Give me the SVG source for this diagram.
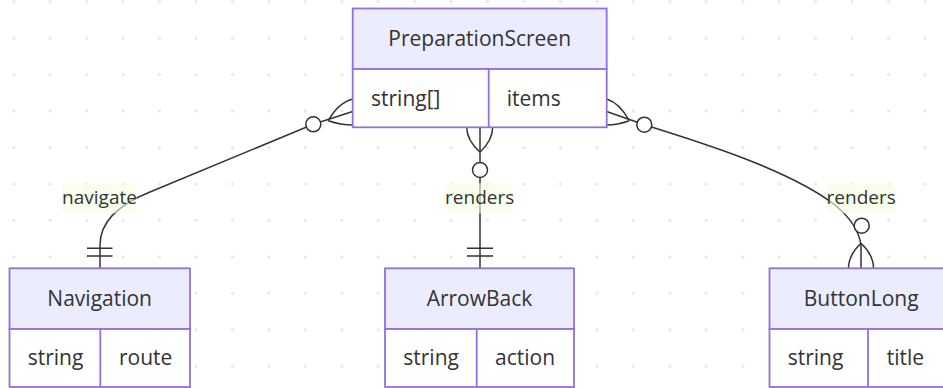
<svg xmlns="http://www.w3.org/2000/svg" width="943" height="388" viewBox="0 0 943 388">
<style>
.hdr{fill:#ECECFF;stroke:#9370DB;stroke-width:1.8}
.row{fill:#ffffff;stroke:#9370DB;stroke-width:1.8}
.div{stroke:#9370DB;stroke-width:1.8;fill:none}
.t{font-family:"Open Sans","DejaVu Sans",sans-serif;font-size:21px;fill:#333333}
.c{text-anchor:middle}
.ln{fill:none;stroke:#333333;stroke-width:1.5}
.ring{fill:#ffffff;stroke:#333333;stroke-width:1.5}
.lbg{fill:#f4ffe4;opacity:0.6}
.lt{font-family:"Open Sans","DejaVu Sans",sans-serif;font-size:19px;fill:#333333;text-anchor:middle}
</style>
<defs>
<pattern id="dots" x="-4.5" y="-16.5" width="36.45" height="36.45" patternUnits="userSpaceOnUse">
<circle cx="18.225" cy="18.225" r="1.6" fill="#e6e6e6"/>
</pattern>
</defs>
<rect width="943" height="388" fill="#ffffff"/>
<rect width="943" height="388" fill="url(#dots)"/>

<g id="connectors">
<path class="ln" d="M352.7,111.5 L313.3,124.3 L150,192 Q100,212 100,245 L100,268.3"/>
<path class="ln" d="M328.3,120.7 Q338,103 352.7,99 M328.3,120.7 Q341,125 352.7,125"/>
<circle class="ring" cx="313.3" cy="124.3" r="7.5"/>
<path class="ln" d="M87,248.3 H112.5 M87,256 H112.5"/>

<path class="ln" d="M480,127.3 L480,268.3"/>
<path class="ln" d="M480,152.3 Q466.7,140 466.7,127.3 M480,152.3 Q492.7,140 492.7,127.3"/>
<circle class="ring" cx="480" cy="170" r="7.5"/>
<path class="ln" d="M467,248.3 H493 M467,256 H493"/>

<path class="ln" d="M606.7,111.5 L644.3,124.7 C700,142 790,170 835,205 Q858,224 861,245 L861,268.3"/>
<path class="ln" d="M629.3,120.7 Q619.6,103 606.7,99 M629.3,120.7 Q617,125 606.7,125"/>
<circle class="ring" cx="644.3" cy="124.7" r="7.5"/>
<path class="ln" d="M861,243.3 Q848.5,255 848.5,268.3 M861,243.3 Q873.5,255 873.5,268.3"/>
<circle class="ring" cx="861.7" cy="225.7" r="7.5"/>

<rect class="lbg" x="62.3" y="183.3" width="74.4" height="30"/>
<text class="lt" x="99.5" y="204">navigate</text>
<rect class="lbg" x="446.7" y="183.3" width="66" height="30"/>
<text class="lt" x="479.7" y="204">renders</text>
<rect class="lbg" x="828.3" y="183.3" width="65.7" height="30"/>
<text class="lt" x="861.2" y="204">renders</text>
</g>

<g id="PreparationScreen">
<rect class="hdr" x="352.7" y="8.5" width="254" height="60.5"/>
<rect class="row" x="352.7" y="69" width="254" height="58.3"/>
<line class="div" x1="488.7" y1="69" x2="488.7" y2="127.3"/>
<text class="t c" x="479.7" y="46">PreparationScreen</text>
<text class="t" x="371" y="106">string[]</text>
<text class="t" x="506.7" y="106">items</text>
</g>

<g id="Navigation">
<rect class="hdr" x="9.5" y="268.3" width="180.5" height="60.7"/>
<rect class="row" x="9.5" y="329" width="180.5" height="58"/>
<line class="div" x1="100.3" y1="329" x2="100.3" y2="387"/>
<text class="t c" x="99.7" y="305.5">Navigation</text>
<text class="t" x="27.7" y="364.5">string</text>
<text class="t" x="119" y="364.5">route</text>
</g>

<g id="ArrowBack">
<rect class="hdr" x="385" y="268.3" width="189" height="60.7"/>
<rect class="row" x="385" y="329" width="189" height="58"/>
<line class="div" x1="476.7" y1="329" x2="476.7" y2="387"/>
<text class="t c" x="479.5" y="305.5">ArrowBack</text>
<text class="t" x="403.3" y="364.5">string</text>
<text class="t" x="495" y="364.5">action</text>
</g>

<g id="ButtonLong">
<rect class="hdr" x="769.5" y="268.3" width="183" height="60.7"/>
<rect class="row" x="769.5" y="329" width="183" height="58"/>
<line class="div" x1="868" y1="329" x2="868" y2="387"/>
<text class="t c" x="861.2" y="305.5">ButtonLong</text>
<text class="t" x="787.7" y="364.5">string</text>
<text class="t" x="886.7" y="364.5">title</text>
</g>
</svg>
